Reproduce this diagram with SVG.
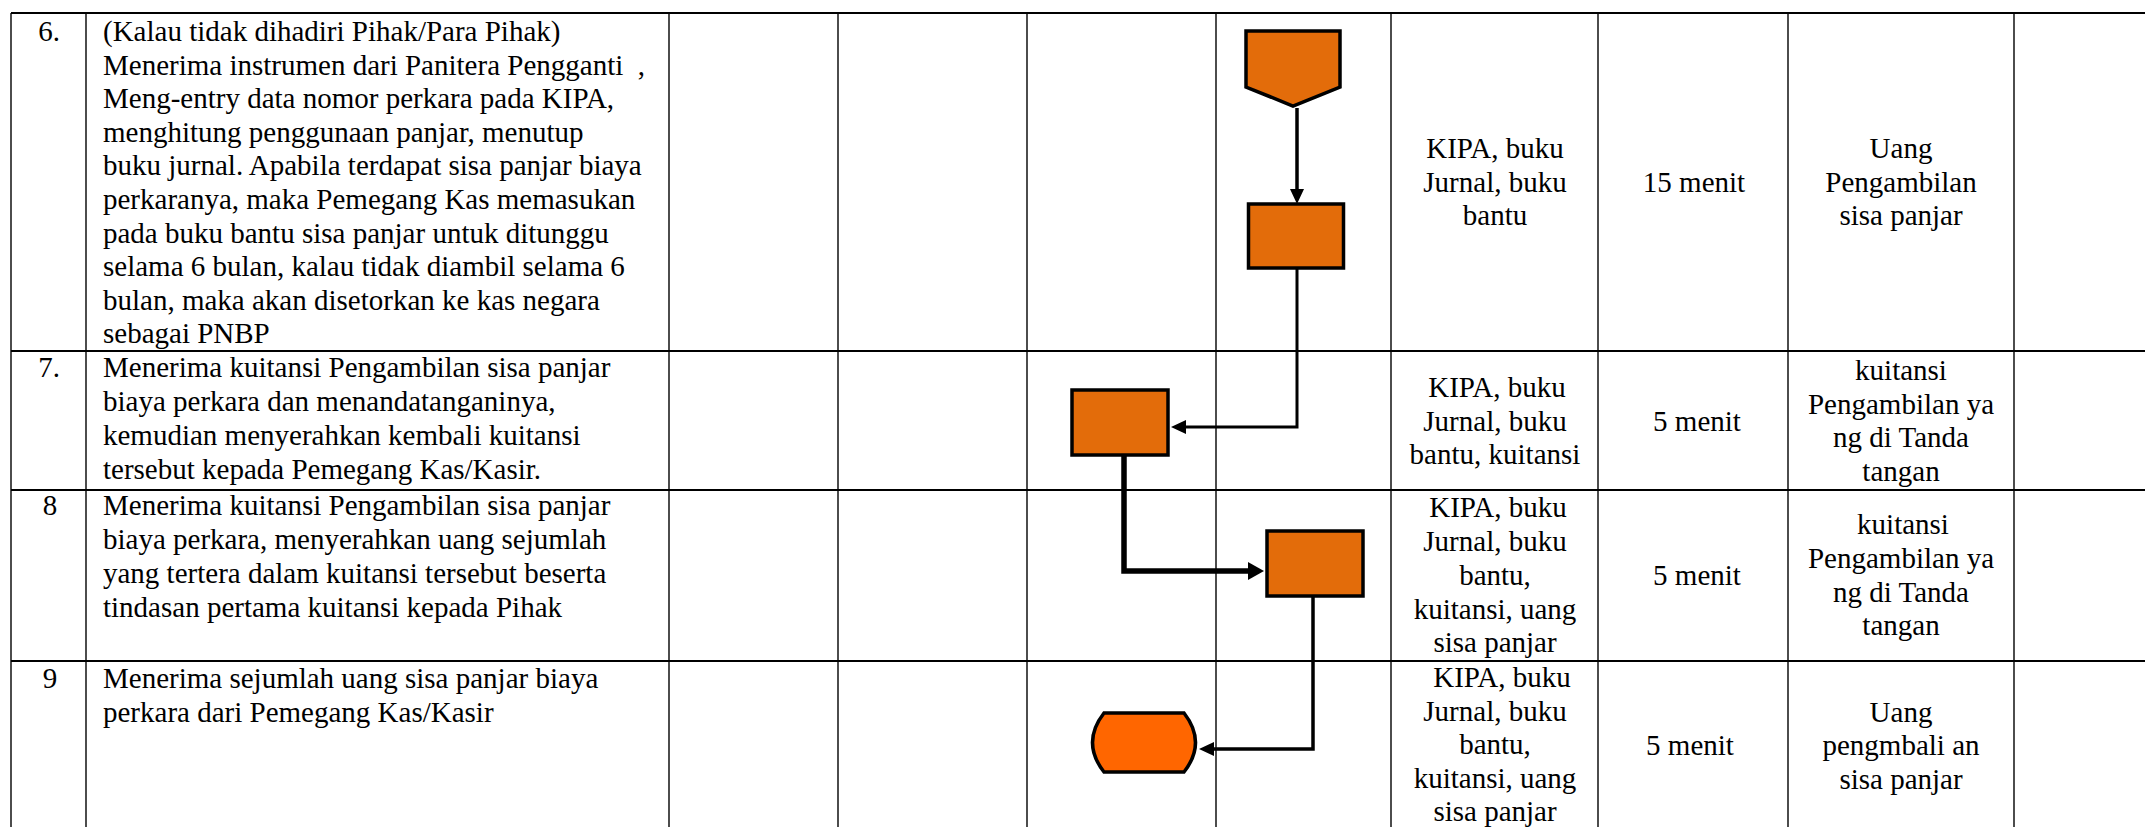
<svg xmlns="http://www.w3.org/2000/svg" width="2145" height="827" viewBox="0 0 2145 827">
<style>
  .t { font-family: "Liberation Serif", "Times New Roman", serif; font-size: 29px; fill: #000; }
  .c { text-anchor: middle; }
  .h { stroke: #000; stroke-width: 2; fill: none; }
  .v { stroke: #000; stroke-width: 1.4; fill: none; }
  .box { fill: #E36C0A; stroke: #000; stroke-width: 3.5; }
  .term { fill: #FF6600; stroke: #000; stroke-width: 3.5; }
  .conn { fill: none; stroke: #000; stroke-linejoin: miter; }
</style>
<defs>
  <marker id="ah" markerUnits="userSpaceOnUse" markerWidth="16" markerHeight="16" refX="0" refY="8" orient="auto">
    <path d="M0,1 L15,8 L0,15 Z" fill="#000"/>
  </marker>
  <marker id="ahBig" markerUnits="userSpaceOnUse" markerWidth="18" markerHeight="20" refX="0" refY="10" orient="auto">
    <path d="M0,1 L16,10 L0,19 Z" fill="#000"/>
  </marker>
</defs>
<rect width="2145" height="827" fill="#fff"/>

<g id="table">
  <line class="h" x1="11" y1="13" x2="2145" y2="13"/>
  <line class="h" x1="11" y1="351" x2="2145" y2="351"/>
  <line class="h" x1="11" y1="490" x2="2145" y2="490"/>
  <line class="h" x1="11" y1="661" x2="2145" y2="661"/>
  <line class="v" x1="11" y1="13" x2="11" y2="827"/>
  <line class="v" x1="86" y1="13" x2="86" y2="827"/>
  <line class="v" x1="669" y1="13" x2="669" y2="827"/>
  <line class="v" x1="838" y1="13" x2="838" y2="827"/>
  <line class="v" x1="1027" y1="13" x2="1027" y2="827"/>
  <line class="v" x1="1216" y1="13" x2="1216" y2="827"/>
  <line class="v" x1="1391" y1="13" x2="1391" y2="827"/>
  <line class="v" x1="1598" y1="13" x2="1598" y2="827"/>
  <line class="v" x1="1788" y1="13" x2="1788" y2="827"/>
  <line class="v" x1="2014" y1="13" x2="2014" y2="827"/>
</g>

<g id="row6-text">
  <text class="t c" x="49" y="41">6.</text>
  <text class="t" x="103" y="41" xml:space="preserve"><tspan x="103" y="41">(Kalau tidak dihadiri Pihak/Para Pihak)</tspan><tspan x="103" y="74.6">Menerima instrumen dari Panitera Pengganti  ,</tspan><tspan x="103" y="108.2">Meng-entry data nomor perkara pada KIPA,</tspan><tspan x="103" y="141.8">menghitung penggunaan panjar, menutup</tspan><tspan x="103" y="175.4">buku jurnal. Apabila terdapat sisa panjar biaya</tspan><tspan x="103" y="209">perkaranya, maka Pemegang Kas memasukan</tspan><tspan x="103" y="242.6">pada buku bantu sisa panjar untuk ditunggu</tspan><tspan x="103" y="276.2">selama 6 bulan, kalau tidak diambil selama 6</tspan><tspan x="103" y="309.8">bulan, maka akan disetorkan ke kas negara</tspan><tspan x="103" y="343.4">sebagai PNBP</tspan></text>
  <text class="t c" x="1495"><tspan x="1495" y="158">KIPA, buku</tspan><tspan x="1495" y="191.5">Jurnal, buku</tspan><tspan x="1495" y="225">bantu</tspan></text>
  <text class="t c" x="1694" y="191.5">15 menit</text>
  <text class="t c" x="1901"><tspan x="1901" y="158">Uang</tspan><tspan x="1901" y="191.5">Pengambilan</tspan><tspan x="1901" y="225">sisa panjar</tspan></text>
</g>

<g id="row7-text">
  <text class="t c" x="49" y="377">7.</text>
  <text class="t"><tspan x="103" y="377">Menerima kuitansi Pengambilan sisa panjar</tspan><tspan x="103" y="411">biaya perkara dan menandatanganinya,</tspan><tspan x="103" y="445">kemudian menyerahkan kembali kuitansi</tspan><tspan x="103" y="479">tersebut kepada Pemegang Kas/Kasir.</tspan></text>
  <text class="t c"><tspan x="1497" y="397">KIPA, buku</tspan><tspan x="1495" y="430.5">Jurnal, buku</tspan><tspan x="1495" y="464">bantu, kuitansi</tspan></text>
  <text class="t c" x="1697" y="431">5 menit</text>
  <text class="t c"><tspan x="1901" y="380">kuitansi</tspan><tspan x="1901" y="413.5">Pengambilan ya</tspan><tspan x="1901" y="447">ng di Tanda</tspan><tspan x="1901" y="480.5">tangan</tspan></text>
</g>

<g id="row8-text">
  <text class="t c" x="50" y="515">8</text>
  <text class="t"><tspan x="103" y="515">Menerima kuitansi Pengambilan sisa panjar</tspan><tspan x="103" y="549">biaya perkara, menyerahkan uang sejumlah</tspan><tspan x="103" y="583">yang tertera dalam kuitansi tersebut beserta</tspan><tspan x="103" y="617">tindasan pertama kuitansi kepada Pihak</tspan></text>
  <text class="t c"><tspan x="1498" y="517">KIPA, buku</tspan><tspan x="1495" y="551">Jurnal, buku</tspan><tspan x="1495" y="585">bantu,</tspan><tspan x="1495" y="618.5">kuitansi, uang</tspan><tspan x="1495" y="652">sisa panjar</tspan></text>
  <text class="t c" x="1697" y="585">5 menit</text>
  <text class="t c"><tspan x="1903" y="534">kuitansi</tspan><tspan x="1901" y="568">Pengambilan ya</tspan><tspan x="1901" y="601.5">ng di Tanda</tspan><tspan x="1901" y="635">tangan</tspan></text>
</g>

<g id="row9-text">
  <text class="t c" x="50" y="688">9</text>
  <text class="t"><tspan x="103" y="688">Menerima sejumlah uang sisa panjar biaya</tspan><tspan x="103" y="722">perkara dari Pemegang Kas/Kasir</tspan></text>
  <text class="t c"><tspan x="1502" y="687">KIPA, buku</tspan><tspan x="1495" y="720.5">Jurnal, buku</tspan><tspan x="1495" y="754">bantu,</tspan><tspan x="1495" y="787.5">kuitansi, uang</tspan><tspan x="1495" y="821">sisa panjar</tspan></text>
  <text class="t c" x="1690" y="755">5 menit</text>
  <text class="t c"><tspan x="1901" y="721.5">Uang</tspan><tspan x="1901" y="755">pengmbali an</tspan><tspan x="1901" y="788.5">sisa panjar</tspan></text>
</g>

<g id="connectors">
  <path class="conn" d="M1297,108 L1297,189" stroke-width="3.5" marker-end="url(#ah)"/>
  <path class="conn" d="M1297,269 L1297,427 L1186,427" stroke-width="3" marker-end="url(#ah)"/>
  <path class="conn" d="M1124,456 L1124,571 L1248,571" stroke-width="5.5" marker-end="url(#ahBig)"/>
  <path class="conn" d="M1313,597 L1313,749 L1214,749" stroke-width="3.5" marker-end="url(#ah)"/>
</g>

<g id="node-offpage">
  <polygon class="box" points="1246,31 1340,31 1340,87 1293,106 1246,87" stroke-width="4.5"/>
</g>
<g id="node-box1">
  <rect class="box" x="1248.5" y="204" width="95" height="64"/>
</g>
<g id="node-box2">
  <rect class="box" x="1072" y="390" width="96" height="65"/>
</g>
<g id="node-box3">
  <rect class="box" x="1267" y="531" width="96" height="65"/>
</g>
<g id="node-end">
  <path class="term" d="M1104,713 L1184,713 Q1207,742.5 1184,772 L1104,772 Q1081,742.5 1104,713 Z"/>
</g>
</svg>
